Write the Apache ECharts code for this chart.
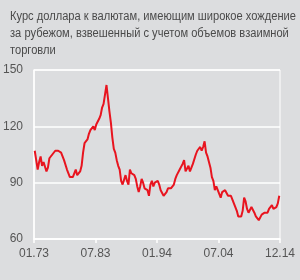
<!DOCTYPE html>
<html>
<head>
<meta charset="utf-8">
<script src="https://cdn.jsdelivr.net/npm/echarts@6/dist/echarts.min.js"></script>
<style>
  html, body { margin: 0; padding: 0; background: #dcdddf; }
  #main { width: 300px; height: 280px; }
</style>
</head>
<body>
<div id="main"></div>
<script>
// индекс курса доллара, поквартально с 1973 по 2014
var startYear = 1973
var values = [
  107, 102, 97, 101,
  104, 99, 101, 100,
  96, 98, 103, 104,
  105, 106, 107, 107,
  107, 107, 106, 104,
  102, 101, 97, 95,
  93, 94, 93, 95,
  97, 94, 93, 96,
  99, 106, 111, 110,
  113, 116, 118, 119,
  120, 118, 121, 122,
  124, 126, 130, 132,
  137, 142, 135, 128,
  122, 114, 108, 106,
  102, 99, 97, 91,
  89, 90, 94, 91,
  89, 97, 95, 94,
  94, 92, 88, 85,
  88, 92, 90, 87,
  88, 86, 83, 89,
  91, 88, 90, 89,
  91, 89, 86, 85,
  83, 82, 85, 87,
  86, 87, 88, 89,
  92, 94, 95, 97,
  98, 100, 102, 96,
  97, 99, 96, 97,
  100, 101, 105, 107,
  108, 109, 107, 109,
  112, 106, 104, 103,
  98, 93, 91, 86,
  88, 86, 84, 82,
  85, 86, 86, 87,
  83, 82, 83, 81,
  80, 77, 75, 72,
  71, 72, 75, 82,
  80, 76, 74, 73,
  77, 76, 74, 72,
  71, 70, 71, 73,
  73, 74, 75, 74,
  76, 77, 78, 76,
  77, 77, 79, 83
]
var xTicks = [1973, 1983.5, 1994, 2004.5, 2015]
var xLabels = ['01.73', '07.83', '01.94', '07.04', '12.14']
var yTicks = [60, 90, 120, 150]
var titleText = 'Курс доллара к валютам, имеющим широкое хождение\nза рубежом, взвешенный с учетом объемов взаимной\nторговли'

var data = values.map(function (v, i) {
  return [startYear + i * 0.25 + 0.125, v]
})

var myChart = echarts.init(document.getElementById('main'))
var option = {
  backgroundColor: '#dcdddf',
  animation: false,
  graphic: [
    {
      // заголовок, сжатый по ширине
      type: 'text',
      x: 10,
      y: 8,
      scaleX: 0.89,
      style: {
        text: titleText,
        fontFamily: 'Liberation Sans',
        fontSize: 12.5,
        lineHeight: 17,
        fill: '#4a4a4a',
      },
    },
  ],
  grid: {
    left: 33,
    right: 20,
    top: 70,
    bottom: 41,
    show: true,
    borderColor: '#ffffff',
    borderWidth: 1,
  },
  xAxis: {
    type: 'value',
    min: xTicks[0],
    max: xTicks[xTicks.length - 1],
    interval: 10.5,
    axisLine: { show: true, lineStyle: { color: '#ffffff', width: 1.5 } },
    axisTick: { show: true, length: 4, lineStyle: { color: '#ffffff', width: 1.5 } },
    splitLine: { show: false },
    axisLabel: {
      margin: 9,
      fontFamily: 'Liberation Sans',
      fontSize: 12,
      color: '#555555',
      formatter: function (v) {
        var k = xTicks.indexOf(v)
        return k >= 0 ? xLabels[k] : ''
      },
    },
  },
  yAxis: {
    type: 'value',
    min: yTicks[0],
    max: yTicks[yTicks.length - 1],
    interval: 30,
    axisLine: { show: true, lineStyle: { color: '#ffffff', width: 1.5 } },
    axisTick: { show: false },
    splitLine: { show: true, lineStyle: { color: '#ffffff', width: 1.5 } },
    axisLabel: {
      margin: 11,
      fontFamily: 'Liberation Sans',
      fontSize: 12,
      color: '#555555',
    },
  },
  series: [
    {
      type: 'line',
      data: data,
      showSymbol: false,
      lineStyle: { color: '#e8141f', width: 2 },
    },
  ],
}
myChart.setOption(option)
</script>
</body>
</html>
